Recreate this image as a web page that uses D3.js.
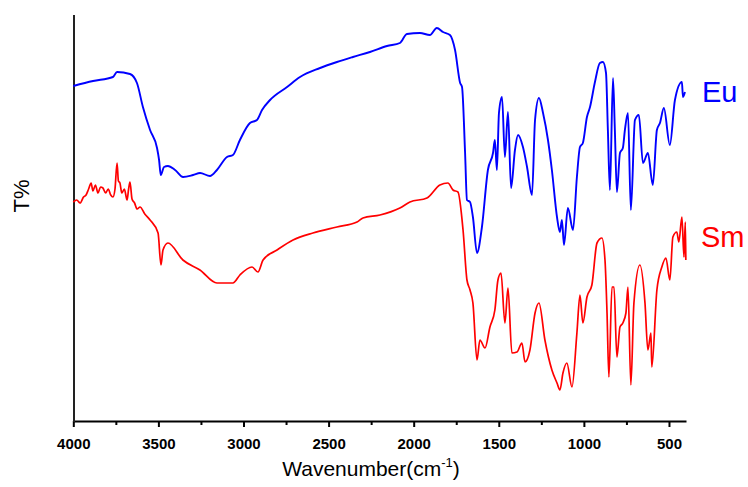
<!DOCTYPE html>
<html>
<head>
<meta charset="utf-8">
<script src="https://cdn.jsdelivr.net/npm/d3@7"></script>
<style>
  body { margin: 0; background: #fff; }
  svg { display: block; }
</style>
</head>
<body>
<div id="chart"></div>
<script>
// IR spectra, wavenumber (cm-1) vs transmittance in arbitrary units
const majorTicks = [4000, 3500, 3000, 2500, 2000, 1500, 1000, 500];
const minorTicks = [3750, 3250, 2750, 2250, 1750, 1250, 750];

const euWave = [4000, 3884, 3767, 3743, 3667, 3626, 3591, 3549, 3508, 3496, 3486, 3467, 3444, 3402, 3355, 3296, 3255, 3197, 3156, 3097, 3062, 3021, 2962, 2921, 2891, 2844, 2744, 2668, 2550, 2451, 2357, 2257, 2157, 2081, 2040, 1963, 1905, 1864, 1828, 1787, 1757, 1727, 1716, 1698, 1687, 1669, 1652, 1628, 1599, 1564, 1534, 1523, 1511, 1499, 1481, 1464, 1446, 1428, 1405, 1387, 1358, 1334, 1305, 1287, 1264, 1240, 1211, 1188, 1158, 1141, 1129, 1117, 1094, 1064, 1041, 1023, 1006, 982, 964, 935, 906, 888, 870, 859, 847, 829, 818, 806, 788, 771, 759, 741, 724, 700, 677, 653, 624, 595, 571, 553, 530, 495, 465, 424, 418, 406];
const euT = [335, 340, 344, 349, 347, 338, 314, 291, 273, 261, 246, 254, 255, 251, 244, 246, 248, 245, 251, 264, 266, 281, 298, 301, 311, 321, 334, 344, 353, 359, 364, 369, 375, 378, 387, 388, 386, 393, 389, 386, 371, 338, 334, 268, 221, 219, 204, 168, 194, 251, 268, 281, 251, 308, 324, 264, 309, 233, 271, 286, 274, 254, 226, 301, 323, 308, 281, 251, 204, 189, 201, 176, 213, 191, 244, 274, 278, 304, 314, 339, 358, 359, 348, 291, 231, 343, 291, 229, 268, 273, 291, 308, 211, 301, 306, 258, 268, 236, 291, 298, 313, 276, 321, 339, 324, 329];

const smWave = [4000, 3980, 3960, 3940, 3925, 3910, 3895, 3885, 3870, 3855, 3840, 3826, 3810, 3795, 3780, 3767, 3755, 3743, 3735, 3726, 3715, 3700, 3684, 3675, 3667, 3655, 3640, 3625, 3608, 3580, 3549, 3502, 3485, 3473, 3444, 3356, 3256, 3156, 3062, 3021, 2950, 2915, 2885, 2803, 2709, 2592, 2451, 2333, 2298, 2198, 2081, 2022, 1922, 1846, 1799, 1769, 1740, 1710, 1687, 1669, 1652, 1628, 1611, 1581, 1552, 1523, 1505, 1487, 1464, 1446, 1423, 1393, 1364, 1346, 1317, 1287, 1264, 1229, 1188, 1158, 1141, 1123, 1100, 1070, 1041, 1023, 1006, 982, 953, 923, 894, 876, 864, 853, 835, 823, 806, 788, 771, 753, 741, 724, 706, 671, 641, 624, 606, 601, 571, 542, 518, 495, 477, 454, 442, 424, 412, 404, 401];
const smT = [219, 221, 218, 224, 226, 232, 238, 230, 236, 228, 234, 233, 228, 232, 226, 224, 232, 258, 240, 238, 228, 232, 221, 232, 239, 222, 218, 212, 214, 207, 201, 188, 156, 171, 178, 161, 151, 138, 138, 146, 154, 149, 161, 171, 181, 188, 194, 199, 203, 206, 213, 219, 223, 236, 238, 231, 229, 191, 141, 131, 118, 61, 81, 73, 94, 111, 141, 148, 98, 133, 68, 69, 78, 59, 71, 108, 118, 81, 51, 38, 31, 48, 58, 34, 88, 126, 98, 124, 136, 178, 183, 161, 108, 44, 134, 134, 64, 94, 98, 108, 134, 36, 118, 156, 118, 71, 88, 54, 131, 154, 163, 141, 184, 189, 179, 204, 164, 199, 161];

const euData = euWave.map((w, i) => ({ w: w, t: euT[i] }));
const smData = smWave.map((w, i) => ({ w: w, t: smT[i] }));

let width = 748, height = 487;
let svg = d3.select('#chart')
            .append('svg')
            .attr('width', width)
            .attr('height', height);

let x = d3.scaleLinear()
          .domain([4000, 400])
          .range([73.3, 686]);

let y = d3.scaleLinear()
          .domain([0, 406])
          .range([421, 15]);

// x axis with major labelled ticks
let xAxis = svg.append('g')
               .attr('transform', 'translate(0,421)')
               .call(d3.axisBottom(x).tickValues(majorTicks).tickFormat(d3.format('d'))
                       .tickSize(6).tickPadding(11).tickSizeOuter(0));
xAxis.select('.domain').attr('stroke-width', 2);
xAxis.selectAll('.tick line').attr('stroke-width', 2);
xAxis.selectAll('text')
     .attr('font-family', 'Liberation Sans, Arial, sans-serif')
     .attr('font-size', 15)
     .attr('font-weight', 'bold')
     .attr('fill', '#000');

// minor ticks
svg.append('g')
   .attr('transform', 'translate(0,421)')
   .call(d3.axisBottom(x).tickValues(minorTicks).tickSize(4).tickFormat('').tickSizeOuter(0))
   .call(g => g.select('.domain').remove())
   .selectAll('.tick line').attr('stroke-width', 2);

// left axis line, no ticks
svg.append('line')
   .attr('x1', 74).attr('x2', 74)
   .attr('y1', y(406)).attr('y2', 422)
   .attr('stroke', '#222')
   .attr('stroke-width', 2);

// axis labels
let xLabel = svg.append('text')
   .attr('x', 371)
   .attr('y', 476)
   .attr('text-anchor', 'middle')
   .attr('font-family', 'Liberation Sans, Arial, sans-serif')
   .attr('font-size', 21)
   .attr('fill', '#000');
xLabel.append('tspan').text('Wavenumber(cm');
xLabel.append('tspan').text('-1').attr('font-size', 13).attr('dy', -9);
xLabel.append('tspan').text(')').attr('dy', 9);

svg.append('text')
   .text('T%')
   .attr('transform', 'translate(29,196) rotate(-90)')
   .attr('text-anchor', 'middle')
   .attr('font-family', 'Liberation Sans, Arial, sans-serif')
   .attr('font-size', 22)
   .attr('fill', '#000');

// spectra
let line = d3.line()
             .x(d => x(d.w))
             .y(d => y(d.t))
             .curve(d3.curveMonotoneX);

svg.append('path')
   .datum(smData)
   .attr('d', line)
   .attr('fill', 'none')
   .attr('stroke', '#ff0000')
   .attr('stroke-width', 1.7)
   .attr('stroke-linejoin', 'round');

svg.append('path')
   .datum(euData)
   .attr('d', line)
   .attr('fill', 'none')
   .attr('stroke', '#0000ff')
   .attr('stroke-width', 1.9)
   .attr('stroke-linejoin', 'round');

// series labels
svg.append('text')
   .text('Eu')
   .attr('x', 702).attr('y', 102)
   .attr('font-family', 'Liberation Sans, Arial, sans-serif')
   .attr('font-size', 29)
   .attr('fill', '#0000ff');

svg.append('text')
   .text('Sm')
   .attr('x', 701).attr('y', 247)
   .attr('font-family', 'Liberation Sans, Arial, sans-serif')
   .attr('font-size', 29)
   .attr('fill', '#ff0000');
</script>
</body>
</html>
